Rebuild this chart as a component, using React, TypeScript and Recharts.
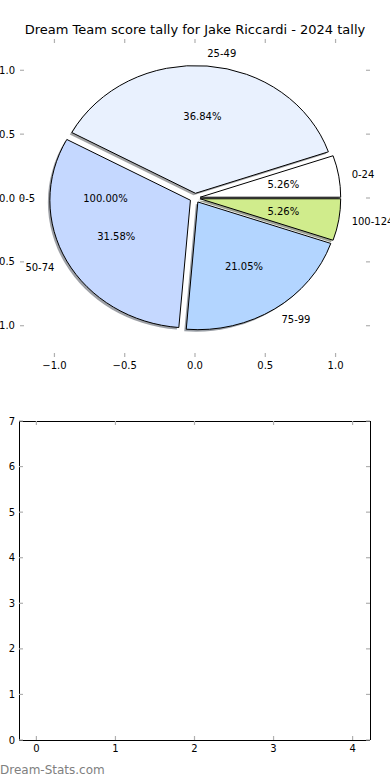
import React from "react";
import { ScatterChart, Scatter, XAxis, YAxis, PieChart, Pie, Cell } from "recharts";

// pie slices (score bands)
const scoreBands = ["0-24", "25-49", "50-74", "75-99", "100-124"];
const bandCounts = [1, 7, 6, 4, 1];
const bandColors = ["#ffffff", "#e9f1fe", "#c5d8ff", "#b3d5ff", "#d0ec8c"];
// stray single-slice pie drawn on the same axes
const extraBands = ["0-5"];
const extraCounts = [1];

const pieTicks = [-1, -0.5, 0, 0.5, 1];
const lowerXTicks = [0, 1, 2, 3, 4];
const lowerYTicks = [0, 1, 2, 3, 4, 5, 6, 7];

const TITLE = "Dream Team score tally for Jake Riccardi - 2024 tally";
const FONT = "'DejaVu Sans', sans-serif";

const W = 390;
const TOP_H = 380;
// plot box: x 20..370, y 39..357 (axes take 1px each)
const TOP_MARGIN = { top: 38, right: 19, bottom: 22, left: 19 };
const PIE_MARGIN = { top: 39, right: 20, bottom: 23, left: 20 };
const LIM = 1.245;
const PLOT_W = W - PIE_MARGIN.left - PIE_MARGIN.right;
const PLOT_H = TOP_H - PIE_MARGIN.top - PIE_MARGIN.bottom;
const RX = PLOT_W / (2 * LIM);
const KY = PLOT_H / PLOT_W;
const EXPLODE = 0.037;
const RAD = Math.PI / 180;

const LOW_H = 400;
// plot box: x 19..370, y 421..740
const LOW_MARGIN = { top: 40, right: 19, bottom: 39, left: 18 };

const pieData = scoreBands.map((b, i) => ({ band: b, count: bandCounts[i] }));
const extraData = extraBands.map((b, i) => ({ band: b, count: extraCounts[i] }));

function shade(hex: string) {
  const n = parseInt(hex.slice(1), 16);
  const r = Math.round(((n >> 16) & 255) * 0.3);
  const g = Math.round(((n >> 8) & 255) * 0.3);
  const b = Math.round((n & 255) * 0.3);
  return `rgb(${r},${g},${b})`;
}

function wedgePath(cx: number, cy: number, rx: number, start: number, end: number, dx = 0, dy = 0) {
  const ry = rx * KY;
  const mid = ((start + end) / 2) * RAD;
  const ox = cx + EXPLODE * rx * Math.cos(mid) + dx;
  const oy = cy - EXPLODE * ry * Math.sin(mid) + dy;
  const s = start * RAD;
  const t = end * RAD;
  const x1 = ox + rx * Math.cos(s);
  const y1 = oy - ry * Math.sin(s);
  const x2 = ox + rx * Math.cos(t);
  const y2 = oy - ry * Math.sin(t);
  const large = Math.abs(end - start) > 180 ? 1 : 0;
  return `M${ox},${oy}L${x1},${y1}A${rx},${ry} 0 ${large} 0 ${x2},${y2}Z`;
}

const Wedge = (props: any) => (
  <path
    d={wedgePath(props.cx, props.cy, props.outerRadius, props.startAngle, props.endAngle)}
    fill={props.fill}
    stroke="#000"
    strokeWidth={1}
  />
);

const WedgeShadow = (props: any) => (
  <path
    d={wedgePath(props.cx, props.cy, props.outerRadius, props.startAngle, props.endAngle, -2, 2)}
    fill={shade(props.fill)}
    fillOpacity={0.5}
    stroke="none"
  />
);

const Hidden = () => <g />;

const makeLabel = (names: string[]) => (props: any) => {
  const { cx, cy, midAngle, outerRadius, percent, index } = props;
  const c = Math.cos(midAngle * RAD);
  const s = Math.sin(midAngle * RAD);
  const rx = outerRadius;
  const ry = outerRadius * KY;
  const lx = cx + (1.1 + EXPLODE) * rx * c;
  const ly = cy - (1.1 + EXPLODE) * ry * s;
  const px = cx + (0.6 + EXPLODE) * rx * c;
  const py = cy - (0.6 + EXPLODE) * ry * s;
  return (
    <g fontFamily={FONT} fontSize={10} fill="#000">
      <text x={lx - (c > 0 ? 1 : 0)} y={ly} textAnchor={c > 0 ? "start" : "end"} dominantBaseline="central">
        {names[index]}
      </text>
      <text x={px} y={py} textAnchor="middle" dominantBaseline="central">
        {(percent * 100).toFixed(2)}%
      </text>
    </g>
  );
};

const fmtPie = (v: number) => (v < 0 ? "\u2212" : "") + Math.abs(v).toFixed(1);
const fmtInt = (v: number) => String(v);

const makeTick =
  (side: "left" | "right" | "top" | "bottom", fmt: ((v: number) => string) | null, gap: number) =>
  (props: any) => {
    const { x, y, payload } = props;
    const L = 4;
    let line = null;
    let label = null;
    if (side === "left") {
      line = <line x1={x} y1={y} x2={x + L} y2={y} />;
      if (fmt)
        label = (
          <text x={x - gap} y={y} textAnchor="end" dominantBaseline="central">
            {fmt(payload.value)}
          </text>
        );
    } else if (side === "right") {
      line = <line x1={x} y1={y} x2={x - L} y2={y} />;
    } else if (side === "top") {
      line = <line x1={x} y1={y} x2={x} y2={y + L} />;
    } else {
      line = <line x1={x} y1={y} x2={x} y2={y - L} />;
      if (fmt)
        label = (
          <text x={x} y={y + gap} textAnchor="middle" dominantBaseline="central">
            {fmt(payload.value)}
          </text>
        );
    }
    return (
      <g>
        <g stroke="#b0b0b0" strokeWidth={1.2}>{line}</g>
        <g fontFamily={FONT} fontSize={10} fill="#000" stroke="none">{label}</g>
      </g>
    );
  };

const axisCommon = {
  type: "number" as const,
  tickLine: false,
  tickSize: 0,
  tickMargin: 0,
  interval: 0 as const,
  allowDataOverflow: true,
};

const frameLine = { stroke: "#000", strokeWidth: 1, shapeRendering: "crispEdges" };

export default function App() {
  const emptyPts: { x: number; y: number }[] = [];
  return (
    <div
      style={{
        position: "absolute",
        left: 0,
        top: 0,
        width: W,
        height: 780,
        background: "#fff",
        fontFamily: FONT,
        overflow: "hidden",
      }}
    >
      <div
        style={{
          position: "absolute",
          left: 0,
          top: 22,
          width: W,
          textAlign: "center",
          fontSize: 13,
          lineHeight: "16px",
          color: "#000",
        }}
      >
        {TITLE}
      </div>

      {/* axes for the pie */}
      <div style={{ position: "absolute", left: 0, top: 0 }}>
        <ScatterChart width={W} height={TOP_H} margin={TOP_MARGIN}>
          <XAxis {...axisCommon} xAxisId="b" dataKey="x" orientation="bottom" domain={[-LIM, LIM]} ticks={pieTicks}
            axisLine={false} height={1} tick={makeTick("bottom", fmtPie, 8)} />
          <XAxis {...axisCommon} xAxisId="t" dataKey="x" orientation="top" domain={[-LIM, LIM]} ticks={pieTicks}
            axisLine={false} height={1} tick={makeTick("top", null, 0)} />
          <YAxis {...axisCommon} yAxisId="l" dataKey="y" orientation="left" domain={[-LIM, LIM]} ticks={pieTicks}
            axisLine={false} width={1} tick={makeTick("left", fmtPie, 5)} />
          <YAxis {...axisCommon} yAxisId="r" dataKey="y" orientation="right" domain={[-LIM, LIM]} ticks={pieTicks}
            axisLine={false} width={1} tick={makeTick("right", null, 0)} />
          <Scatter xAxisId="b" yAxisId="l" data={emptyPts} isAnimationActive={false} />
          <Scatter xAxisId="t" yAxisId="r" data={emptyPts} isAnimationActive={false} />
        </ScatterChart>
      </div>

      {/* the pie itself */}
      <div style={{ position: "absolute", left: 0, top: 0 }}>
        <PieChart width={W} height={TOP_H} margin={PIE_MARGIN}>
          <Pie data={pieData} dataKey="count" nameKey="band" outerRadius={RX} startAngle={0} endAngle={360}
            shape={WedgeShadow} label={false} labelLine={false} isAnimationActive={false}>
            {pieData.map((d, i) => (
              <Cell key={d.band} fill={bandColors[i]} />
            ))}
          </Pie>
          <Pie data={pieData} dataKey="count" nameKey="band" outerRadius={RX} startAngle={0} endAngle={360}
            shape={Wedge} label={makeLabel(scoreBands)} labelLine={false} isAnimationActive={false}>
            {pieData.map((d, i) => (
              <Cell key={d.band} fill={bandColors[i]} />
            ))}
          </Pie>
          <Pie data={extraData} dataKey="count" nameKey="band" outerRadius={RX} startAngle={0} endAngle={360}
            shape={Hidden} fill="none" stroke="none" label={makeLabel(extraBands)} labelLine={false}
            isAnimationActive={false} />
        </PieChart>
      </div>

      {/* empty lower subplot */}
      <div style={{ position: "absolute", left: 0, top: TOP_H }}>
        <ScatterChart width={W} height={LOW_H} margin={LOW_MARGIN}>
          <XAxis {...axisCommon} xAxisId="b" dataKey="x" orientation="bottom" domain={[-0.22, 4.22]} ticks={lowerXTicks}
            axisLine={frameLine} height={1} tick={makeTick("bottom", fmtInt, 8)} />
          <XAxis {...axisCommon} xAxisId="t" dataKey="x" orientation="top" domain={[-0.22, 4.22]} ticks={lowerXTicks}
            axisLine={frameLine} height={1} tick={makeTick("top", null, 0)} />
          <YAxis {...axisCommon} yAxisId="l" dataKey="y" orientation="left" domain={[0, 7]} ticks={lowerYTicks}
            axisLine={frameLine} width={1} tick={makeTick("left", fmtInt, 4)} />
          <YAxis {...axisCommon} yAxisId="r" dataKey="y" orientation="right" domain={[0, 7]} ticks={lowerYTicks}
            axisLine={frameLine} width={1} tick={makeTick("right", null, 0)} />
          <Scatter xAxisId="b" yAxisId="l" data={emptyPts} isAnimationActive={false} />
          <Scatter xAxisId="t" yAxisId="r" data={emptyPts} isAnimationActive={false} />
        </ScatterChart>
      </div>

      <div
        style={{
          position: "absolute",
          left: 0,
          top: 762,
          fontSize: 12,
          lineHeight: "16px",
          color: "#808080",
        }}
      >
        Dream-Stats.com
      </div>
    </div>
  );
}
